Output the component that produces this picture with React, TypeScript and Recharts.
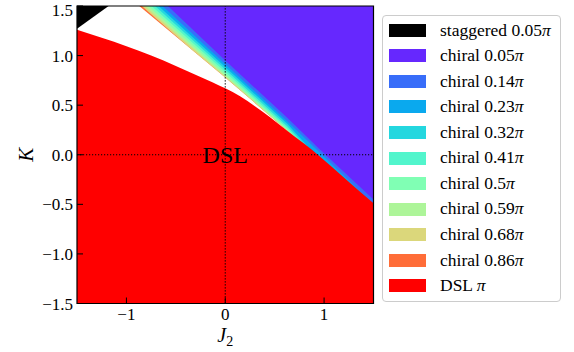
import {
  Area,
  ComposedChart,
  Label,
  Legend,
  ReferenceArea,
  ReferenceDot,
  ReferenceLine,
  XAxis,
  YAxis,
} from "recharts";

type Pt = { j2: number; k: number };

const SERIF = "Liberation Serif, Times New Roman, serif";

const J2_TICKS = [-1, 0, 1];
const K_TICKS = [-1.5, -1, -0.5, 0, 0.5, 1, 1.5];

// phase boundaries, as (J2, K)
const staggeredEdge: Pt[] = [
  { j2: -1.5, k: 1.27 },
  { j2: -1.18, k: 1.5 },
];

const dslEdge: Pt[] = [
  { j2: -1.5, k: 1.26 },
  { j2: -1.25, k: 1.18 },
  { j2: -1.0, k: 1.095 },
  { j2: -0.75, k: 1.0 },
  { j2: -0.5, k: 0.895 },
  { j2: -0.25, k: 0.785 },
  { j2: 0, k: 0.67 },
  { j2: 0.15, k: 0.59 },
  { j2: 0.3, k: 0.49 },
  { j2: 0.45, k: 0.38 },
  { j2: 0.63, k: 0.24 },
  { j2: 0.8, k: 0.11 },
  { j2: 0.96, k: -0.02 },
  { j2: 1.2, k: -0.23 },
  { j2: 1.5, k: -0.49 },
];

// lower edge of each chiral phase (each one fills up to K = 1.5)
const chiral086Edge: Pt[] = [
  { j2: -0.87, k: 1.5 },
  { j2: 0, k: 0.78 },
  { j2: 0.63, k: 0.24 },
  { j2: 1.5, k: -0.65 },
];
const chiral068Edge: Pt[] = [
  { j2: -0.845, k: 1.5 },
  { j2: -0.35, k: 1.07 },
  { j2: 0, k: 0.78 },
  { j2: 0.63, k: 0.24 },
  { j2: 1.5, k: -0.65 },
];
const chiral059Edge: Pt[] = [
  { j2: -0.815, k: 1.5 },
  { j2: 0, k: 0.79 },
  { j2: 0.63, k: 0.24 },
  { j2: 1.5, k: -0.65 },
];
const chiral05Edge: Pt[] = [
  { j2: -0.78, k: 1.5 },
  { j2: 0, k: 0.81 },
  { j2: 0.63, k: 0.25 },
  { j2: 1.5, k: -0.65 },
];
const chiral041Edge: Pt[] = [
  { j2: -0.745, k: 1.5 },
  { j2: 0, k: 0.835 },
  { j2: 0.63, k: 0.265 },
  { j2: 1.5, k: -0.65 },
];
const chiral032Edge: Pt[] = [
  { j2: -0.71, k: 1.5 },
  { j2: 0, k: 0.86 },
  { j2: 0.63, k: 0.285 },
  { j2: 1.5, k: -0.65 },
];
const chiral023Edge: Pt[] = [
  { j2: -0.675, k: 1.5 },
  { j2: 0, k: 0.885 },
  { j2: 0.63, k: 0.31 },
  { j2: 1.5, k: -0.65 },
];
const chiral014Edge: Pt[] = [
  { j2: -0.635, k: 1.5 },
  { j2: 0, k: 0.915 },
  { j2: 0.63, k: 0.335 },
  { j2: 1.5, k: -0.5 },
];
const chiral005Edge: Pt[] = [
  { j2: -0.58, k: 1.5 },
  { j2: 0, k: 0.95 },
  { j2: 0.63, k: 0.37 },
  { j2: 0.96, k: 0.05 },
  { j2: 1.5, k: -0.45 },
];

const PHASE_LABELS = [
  "staggered 0.05",
  "chiral 0.05",
  "chiral 0.14",
  "chiral 0.23",
  "chiral 0.32",
  "chiral 0.41",
  "chiral 0.5",
  "chiral 0.59",
  "chiral 0.68",
  "chiral 0.86",
  "DSL ",
];

// matplotlib "rainbow" sampled at phase / pi
const PHASE_COLORS = [
  "#000000",
  "#6628fe",
  "#386df9",
  "#0aa9ee",
  "#24d7df",
  "#52f5cc",
  "#80ffb4",
  "#adf599",
  "#dbd77b",
  "#ff6d38",
  "#ff0000",
];

// outermost band first, so the inner ones paint over it
const chiralEdges = [
  chiral086Edge,
  chiral068Edge,
  chiral059Edge,
  chiral05Edge,
  chiral041Edge,
  chiral032Edge,
  chiral023Edge,
  chiral014Edge,
  chiral005Edge,
];

const fmtJ2 = (v: number) => String(v).replace("-", "\u2212");
const fmtK = (v: number) => v.toFixed(1).replace("-", "\u2212");

const J2Label = (props: any) => {
  const { viewBox } = props;
  const cx = viewBox.x + viewBox.width / 2;
  return (
    <text
      x={cx}
      y={viewBox.y + 38}
      textAnchor="middle"
      fontFamily={SERIF}
      fontSize={20}
      fill="#000"
    >
      <tspan fontStyle="italic">J</tspan>
      <tspan fontSize={14} dy={4}>
        2
      </tspan>
    </text>
  );
};

const KLabel = (props: any) => {
  const { viewBox } = props;
  const cx = viewBox.x + 9;
  const cy = viewBox.y + viewBox.height / 2;
  return (
    <text
      x={cx}
      y={cy}
      transform={`rotate(-90 ${cx} ${cy})`}
      textAnchor="middle"
      dominantBaseline="central"
      fontFamily={SERIF}
      fontStyle="italic"
      fontSize={21}
      fill="#000"
    >
      K
    </text>
  );
};

const renderLegend = () => (
  <div
    style={{
      width: 179,
      height: 287,
      boxSizing: "border-box",
      border: "1px solid #cccccc",
      borderRadius: 4,
      background: "rgba(255,255,255,0.8)",
      paddingTop: 1.5,
      fontFamily: SERIF,
      fontSize: 17.5,
      color: "#000",
    }}
  >
    {PHASE_LABELS.map((name, i) => (
      <div
        key={name}
        style={{ display: "flex", alignItems: "center", height: 25.57 }}
      >
        <span
          style={{
            width: 37,
            height: 13,
            marginLeft: 6,
            flexShrink: 0,
            background: PHASE_COLORS[i],
          }}
        />
        <span style={{ marginLeft: 14, whiteSpace: "nowrap", lineHeight: 1 }}>
          {name}
          <i>π</i>
        </span>
      </div>
    ))}
  </div>
);

export default function App() {
  const tickStyle = { fill: "#000", fontSize: 17, fontFamily: SERIF };
  return (
    <div
      style={{
        position: "absolute",
        left: 0,
        top: 0,
        width: 574,
        height: 352,
        background: "#fff",
        fontFamily: SERIF,
      }}
    >
      <ComposedChart
        width={574}
        height={352}
        margin={{ top: 6, right: 200.5, bottom: 18.5, left: 17 }}
        style={{ fontFamily: SERIF }}
      >
        <XAxis
          dataKey="j2"
          type="number"
          domain={[-1.5, 1.5]}
          allowDataOverflow
          ticks={J2_TICKS}
          tickFormatter={fmtJ2}
          axisLine={false}
          tickLine={{ stroke: "#000", strokeWidth: 1 }}
          tickSize={-6}
          tickMargin={10}
          tick={tickStyle}
          height={30}
          label={<Label content={J2Label} />}
        />
        <YAxis
          type="number"
          domain={[-1.5, 1.5]}
          allowDataOverflow
          ticks={K_TICKS}
          tickFormatter={fmtK}
          axisLine={false}
          tickLine={{ stroke: "#000", strokeWidth: 1 }}
          tickSize={-6}
          tickMargin={10}
          tick={tickStyle}
          width={60}
          label={<Label content={KLabel} />}
        />
        {chiralEdges.map((edge, i) => (
          <Area
            key={i}
            data={edge}
            dataKey="k"
            type="linear"
            baseValue={1.5}
            fill={PHASE_COLORS[9 - i]}
            fillOpacity={1}
            stroke="none"
            activeDot={false}
            isAnimationActive={false}
          />
        ))}
        <Area
          data={dslEdge}
          dataKey="k"
          type="monotone"
          baseValue={-1.5}
          fill={PHASE_COLORS[10]}
          fillOpacity={1}
          stroke="none"
          activeDot={false}
          isAnimationActive={false}
        />
        <Area
          data={staggeredEdge}
          dataKey="k"
          type="linear"
          baseValue={1.5}
          fill={PHASE_COLORS[0]}
          fillOpacity={1}
          stroke="none"
          activeDot={false}
          isAnimationActive={false}
        />
        <ReferenceLine x={0} stroke="#000" strokeWidth={1.1} strokeDasharray="1.2 1.8" />
        <ReferenceLine y={0} stroke="#000" strokeWidth={1.1} strokeDasharray="1.2 1.8" />
        <ReferenceDot
          x={0}
          y={0}
          r={0}
          fill="none"
          stroke="none"
          label={{
            value: "DSL",
            position: "center",
            fill: "#000",
            fontSize: 24,
            fontFamily: SERIF,
          }}
        />
        <ReferenceArea
          x1={-1.5}
          x2={1.5}
          y1={-1.5}
          y2={1.5}
          fill="none"
          stroke="#000"
          strokeWidth={1.2}
        />
        <Legend
          layout="vertical"
          align="center"
          verticalAlign="middle"
          wrapperStyle={{ left: 382, top: 15 }}
          content={renderLegend}
        />
      </ComposedChart>
    </div>
  );
}
